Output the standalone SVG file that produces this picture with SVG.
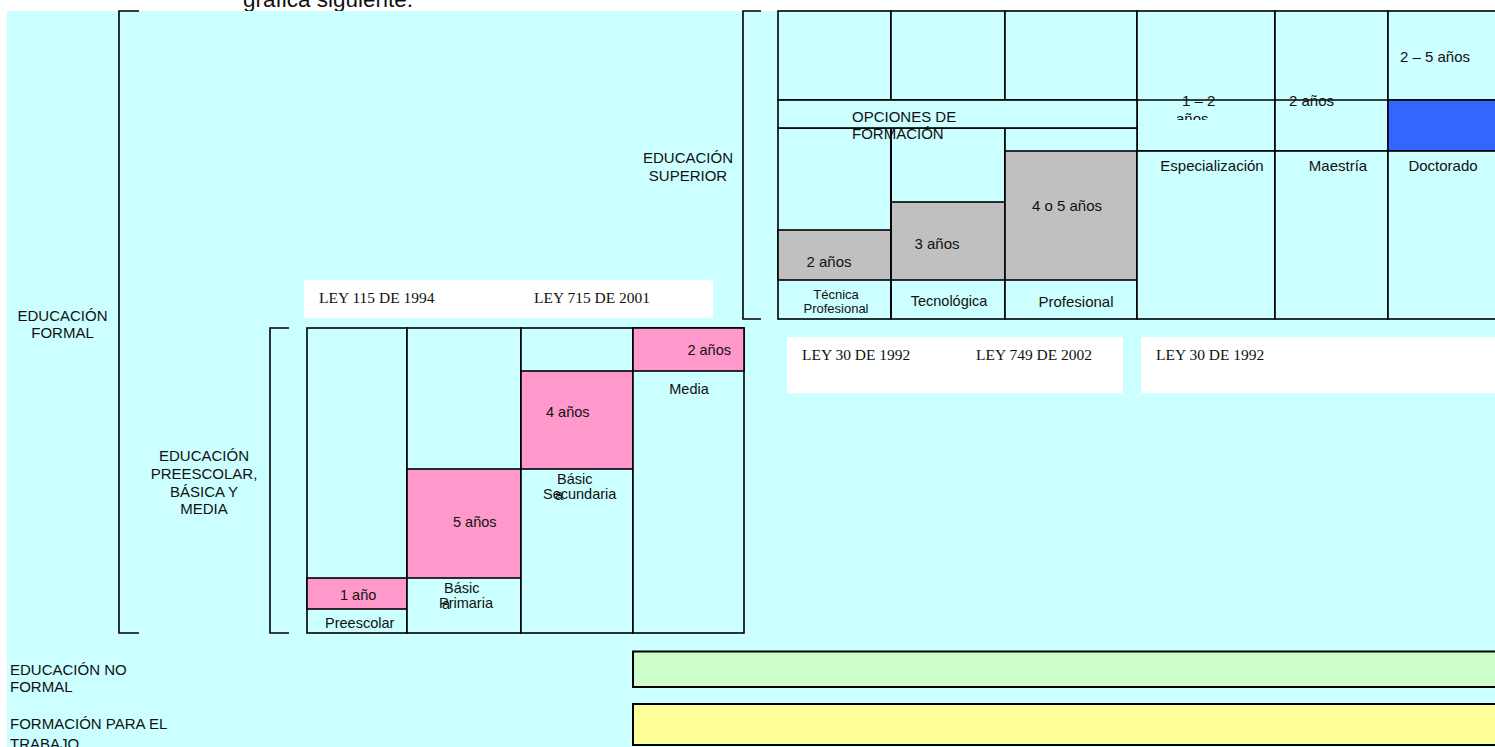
<svg xmlns="http://www.w3.org/2000/svg" width="1495" height="747" viewBox="0 0 1495 747">
<defs>
<style>
.t{font-family:"Liberation Sans",Arial,sans-serif;font-size:15px;fill:#111}
.s{font-size:14.5px}
.xs{font-size:13px}
.m{text-anchor:middle}
.law{font-family:"Liberation Serif","Times New Roman",serif;font-size:15.5px;fill:#111}
.ln{stroke:#000;stroke-width:1.6;fill:none}
.cy{fill:#CCFFFF;stroke:#000;stroke-width:1.6}
.pk{fill:#FF99CC;stroke:#000;stroke-width:1.6}
.gr{fill:#C0C0C0;stroke:#000;stroke-width:1.6}
.wb{fill:#FFFFFF}
</style>
<clipPath id="clip12"><rect x="1140" y="80" width="130" height="40"/></clipPath>
</defs>
<rect x="0" y="0" width="1495" height="747" fill="#FFFFFF"/>
<text class="t" x="243" y="7" style="font-size:22.5px">gráfica siguiente.</text>
<rect x="7" y="11" width="1488" height="736" fill="#CCFFFF"/>

<g id="connectors">
<polyline class="ln" points="139,11 119,11 119,633 139,633"/>
<polyline class="ln" points="289,328 270,328 270,633 289,633"/>
<polyline class="ln" points="761,11 743,11 743,319 761,319"/>
</g>

<g id="label-formal">
<text class="t m" x="62.5" y="321">EDUCACIÓN</text>
<text class="t m" x="62.5" y="337.5">FORMAL</text>
</g>
<g id="label-superior">
<text class="t m" x="688" y="163">EDUCACIÓN</text>
<text class="t m" x="688" y="181">SUPERIOR</text>
</g>
<g id="label-basica">
<text class="t m" x="204" y="461">EDUCACIÓN</text>
<text class="t m" x="204" y="479">PREESCOLAR,</text>
<text class="t m" x="204" y="496.5">BÁSICA Y</text>
<text class="t m" x="204" y="513.5">MEDIA</text>
</g>
<g id="label-noformal">
<text class="t" x="10" y="675">EDUCACIÓN NO</text>
<text class="t" x="10" y="692">FORMAL</text>
</g>
<g id="label-trabajo">
<text class="t" x="10" y="729">FORMACIÓN PARA EL</text>
<text class="t" x="10" y="749">TRABAJO</text>
</g>

<g id="upper-table">
<rect class="cy" x="778" y="11" width="113" height="89"/>
<rect class="cy" x="891" y="11" width="114" height="89"/>
<rect class="cy" x="1005" y="11" width="132" height="89"/>
<rect class="cy" x="1137" y="11" width="138" height="140"/>
<rect class="cy" x="1275" y="11" width="113" height="140"/>
<rect class="cy" x="1388" y="11" width="110" height="89"/>
<rect x="1388" y="100" width="110" height="51" fill="#3366FF" stroke="#000" stroke-width="1.6"/>
<line class="ln" x1="1137" y1="100" x2="1388" y2="100"/>
<rect class="cy" x="778" y="128" width="113" height="191"/>
<rect class="cy" x="891" y="128" width="114" height="191"/>
<rect class="cy" x="1005" y="128" width="132" height="191"/>
<rect class="gr" x="778" y="230" width="113" height="50"/>
<rect class="gr" x="891" y="202" width="114" height="78"/>
<rect class="gr" x="1005" y="151" width="132" height="129"/>
<rect class="cy" x="1137" y="151" width="138" height="168"/>
<rect class="cy" x="1275" y="151" width="113" height="168"/>
<rect class="cy" x="1388" y="151" width="110" height="168"/>
<rect class="cy" x="778" y="100" width="359" height="28"/>
<line class="ln" x1="891" y1="128" x2="891" y2="319"/>
<text class="t" x="852" y="121.5">OPCIONES DE</text>
<text class="t" x="852" y="138.5">FORMACIÓN</text>
<text class="t" x="1182" y="106">1 – 2</text>
<text class="t" x="1176" y="124" clip-path="url(#clip12)">años</text>
<text class="t" x="1289" y="106">2  años</text>
<text class="t" x="1400" y="62">2 – 5 años</text>
<text class="t m" x="1212" y="171">Especialización</text>
<text class="t m" x="1338" y="171">Maestría</text>
<text class="t m" x="1443" y="171">Doctorado</text>
<text class="t m" x="829" y="267">2 años</text>
<text class="t m" x="937" y="249">3 años</text>
<text class="t m" x="1067" y="211">4 o 5 años</text>
<text class="t m xs" x="836" y="299">Técnica</text>
<text class="t m xs" x="836" y="313">Profesional</text>
<text class="t m s" x="949" y="306">Tecnológica</text>
<text class="t m" x="1076" y="306.5">Profesional</text>
</g>

<g id="laws-basica">
<rect class="wb" x="304" y="280" width="409" height="38"/>
<text class="law" x="319" y="303">LEY 115 DE 1994</text>
<text class="law" x="534" y="303">LEY 715 DE 2001</text>
</g>
<g id="laws-superior">
<rect class="wb" x="787" y="337" width="336" height="56"/>
<text class="law" x="802" y="359.5">LEY 30 DE 1992</text>
<text class="law" x="976" y="359.5">LEY 749 DE 2002</text>
</g>
<g id="laws-posgrado">
<rect class="wb" x="1141" y="337" width="354" height="56"/>
<text class="law" x="1156" y="359.5">LEY 30 DE 1992</text>
</g>

<g id="col-preescolar">
<rect class="cy" x="307" y="328" width="100" height="305"/>
<rect class="pk" x="307" y="578" width="100" height="31"/>
<text class="t s" x="340" y="600">1 año</text>
<text class="t s" x="325" y="628">Preescolar</text>
</g>
<g id="col-primaria">
<rect class="cy" x="407" y="328" width="114" height="305"/>
<rect class="pk" x="407" y="469" width="114" height="109"/>
<text class="t s" x="453" y="527">5 años</text>
<text class="t s" x="444" y="593">Básic</text>
<text class="t s" x="439" y="608">Primaria</text>
<text class="t s" x="442" y="608.5">a</text>
</g>
<g id="col-secundaria">
<rect class="cy" x="521" y="328" width="112" height="305"/>
<rect class="pk" x="521" y="371" width="112" height="98"/>
<text class="t s" x="546" y="417">4 años</text>
<text class="t s" x="557" y="484">Básic</text>
<text class="t s" x="543" y="499">Secundaria</text>
<text class="t s" x="555" y="500">a</text>
</g>
<g id="col-media">
<rect class="cy" x="633" y="328" width="111" height="305"/>
<rect class="pk" x="633" y="328" width="111" height="43"/>
<text class="t s" x="731" y="354.5" text-anchor="end">2 años</text>
<text class="t s m" x="689" y="394">Media</text>
</g>

<g id="bar-noformal">
<rect x="633" y="651.5" width="870" height="35.5" fill="#CCFFCC" stroke="#000" stroke-width="2"/>
</g>
<g id="bar-trabajo">
<rect x="633" y="704" width="870" height="41" fill="#FFFF99" stroke="#000" stroke-width="2"/>
</g>
</svg>
